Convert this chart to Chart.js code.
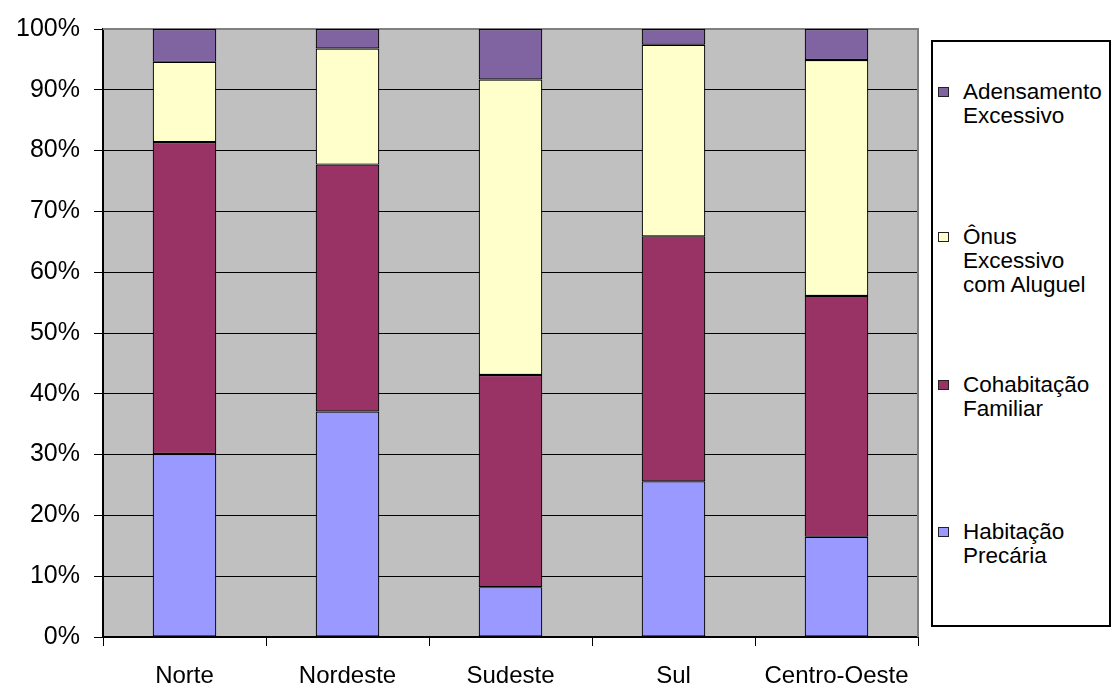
<!DOCTYPE html>
<html>
<head>
<meta charset="utf-8">
<script src="https://cdn.jsdelivr.net/npm/chart.js@4/dist/chart.umd.min.js"></script>
<style>
  html, body { margin: 0; padding: 0; background: #fff; }
  #wrap { position: relative; width: 1114px; height: 691px; overflow: hidden; }
  #chart { position: absolute; left: 0; top: 0; }
  #legend {
    position: absolute; left: 931px; top: 40px; width: 176px; height: 583px;
    border: 2px solid #000; background: #fff;
    font-family: 'Liberation Sans', Arial, sans-serif; font-size: 22.5px;
    line-height: 24px; color: #000;
  }
  #legend .item { position: absolute; left: 30px; white-space: nowrap; }
  #legend .swatch {
    position: absolute; left: -25px; top: 7px; width: 9px; height: 8px;
    border: 1px solid #222;
  }
</style>
</head>
<body>
<div id="wrap">
  <canvas id="chart" width="1114" height="691" style="width:1114px;height:691px"></canvas>
  <div id="legend"></div>
</div>
<script>
// Regions and the share (%) of each housing-deficit component
const categories = ['Norte', 'Nordeste', 'Sudeste', 'Sul', 'Centro-Oeste'];
const habitacaoPrecaria    = [30.1, 37.1,  8.2, 25.6, 16.5];
const cohabitacaoFamiliar  = [51.3, 40.6, 34.9, 40.3, 39.6];
const onusExcessivoAluguel = [13.2, 19.1, 48.6, 31.5, 38.8];
const adensamentoExcessivo = [ 5.4,  3.2,  8.3,  2.6,  5.1];
const yTickValues = [0, 10, 20, 30, 40, 50, 60, 70, 80, 90, 100];

// Series names, split into the lines shown in the legend
const seriesLines = [
  ['Habitação', 'Precária'],
  ['Cohabitação', 'Familiar'],
  ['Ônus', 'Excessivo', 'com Aluguel'],
  ['Adensamento', 'Excessivo']
];
const seriesValues = [habitacaoPrecaria, cohabitacaoFamiliar, onusExcessivoAluguel, adensamentoExcessivo];
const seriesColors = ['#9999FF', '#993366', '#FFFFCC', '#8064A2'];

const FAMILY = "'Liberation Sans', Arial, sans-serif";

const datasets = seriesValues.map((vals, i) => ({
  label: seriesLines[i].join(' '),
  data: vals,
  backgroundColor: seriesColors[i],
  borderColor: '#000',
  borderWidth: 1.2,
  borderSkipped: false,
  barPercentage: 1,
  categoryPercentage: 0.39
}));

// Grey plot background and the grey frame on its top and right edges
const plotFrame = {
  id: 'plotFrame',
  beforeDraw(chart) {
    const { ctx, chartArea: a } = chart;
    ctx.save();
    ctx.fillStyle = '#C0C0C0';
    ctx.fillRect(a.left, a.top, a.right - a.left, a.bottom - a.top);
    ctx.restore();
  },
  beforeDatasetsDraw(chart) {
    const { ctx, chartArea: a } = chart;
    ctx.save();
    ctx.strokeStyle = '#808080';
    ctx.lineWidth = 2;
    ctx.beginPath();
    ctx.moveTo(a.left, a.top);
    ctx.lineTo(a.right, a.top);
    ctx.lineTo(a.right, a.bottom);
    ctx.stroke();
    ctx.restore();
  }
};

new Chart(document.getElementById('chart'), {
  type: 'bar',
  data: { labels: categories, datasets },
  plugins: [plotFrame],
  options: {
    responsive: false,
    devicePixelRatio: 1,
    animation: false,
    layout: { padding: { left: 0, top: 25, right: 196, bottom: 0 } },
    plugins: { legend: { display: false }, tooltip: { enabled: false } },
    scales: {
      x: {
        stacked: true,
        offset: true,
        afterFit(scale) { scale.height = 54; },
        grid: { display: true, drawOnChartArea: false, drawTicks: true, tickLength: 9, color: '#000', lineWidth: 1, offset: true },
        border: { display: true, color: '#000', width: 2 },
        ticks: { color: '#000', font: { family: FAMILY, size: 24 }, padding: 16, maxRotation: 0, autoSkip: false }
      },
      y: {
        stacked: true,
        min: 0,
        max: 100,
        afterFit(scale) { scale.width = 103; },
        afterBuildTicks(scale) { scale.ticks = yTickValues.map(v => ({ value: v })); },
        grid: { color: '#000', lineWidth: 1, drawTicks: true, tickLength: 9, tickColor: '#000' },
        border: { display: true, color: '#000', width: 2 },
        ticks: { color: '#000', font: { family: FAMILY, size: 25 }, padding: 14, callback: v => v + '%' }
      }
    }
  }
});

// Legend, listed top to bottom in the reverse of the stacking order
const legendTops = [37.5, 183, 331, 478];
const legend = document.getElementById('legend');
seriesLines.slice().reverse().forEach((lines, k) => {
  const i = seriesLines.length - 1 - k;
  const item = document.createElement('div');
  item.className = 'item';
  item.style.top = legendTops[k] + 'px';
  const sw = document.createElement('span');
  sw.className = 'swatch';
  sw.style.background = seriesColors[i];
  item.appendChild(sw);
  lines.forEach((t, j) => {
    if (j) item.appendChild(document.createElement('br'));
    item.appendChild(document.createTextNode(t));
  });
  legend.appendChild(item);
});
</script>
</body>
</html>
